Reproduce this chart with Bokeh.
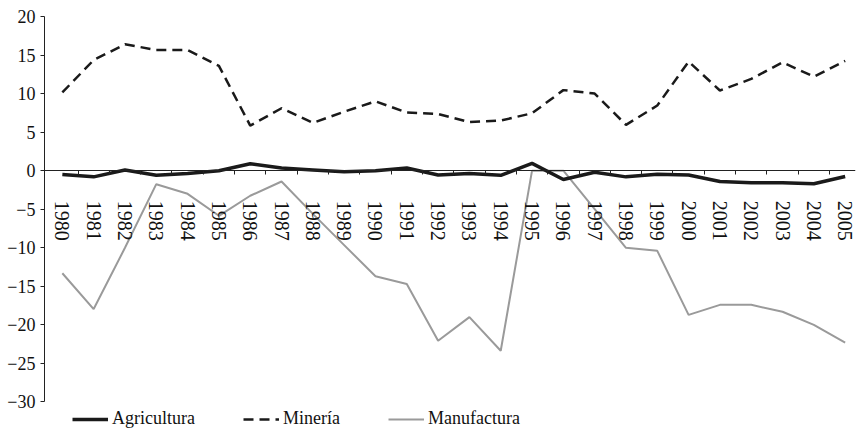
from bokeh.plotting import figure
from bokeh.models import FixedTicker, Legend, LegendItem, Range1d
from bokeh.embed import file_html
from bokeh.resources import INLINE

years = list(range(1980, 2006))
year_labels = [str(y) for y in years]

agricultura = [-0.5, -0.8, 0.1, -0.6, -0.35, 0.0, 0.9, 0.35, 0.1, -0.15,
               0.0, 0.35, -0.55, -0.35, -0.6, 0.95, -1.15, -0.2, -0.8, -0.45,
               -0.55, -1.4, -1.55, -1.55, -1.7, -0.75]
mineria = [10.15, 14.35, 16.4, 15.65, 15.65, 13.6, 5.85, 8.1, 6.2, 7.65,
           9.0, 7.55, 7.35, 6.3, 6.5, 7.45, 10.45, 10.0, 5.95, 8.45,
           14.15, 10.4, 11.9, 14.05, 12.2, 14.25]
manufactura = [-13.3, -17.95, -10.0, -1.75, -3.0, -5.85, -3.25, -1.4, -5.6, -9.65,
               -13.7, -14.7, -22.05, -19.0, -23.35, 0.0, 0.0, -5.0, -10.0, -10.4,
               -18.7, -17.4, -17.4, -18.3, -20.0, -22.3]

y_ticks = [-30, -25, -20, -15, -10, -5, 0, 5, 10, 15, 20]
y_tick_labels = ["\u221230", "\u221225", "\u221220", "\u221215", "\u221210", "\u22125",
                 "0", "5", "10", "15", "20"]
series_names = ["Agricultura", "Miner\u00eda", "Manufactura"]

FONT = "Liberation Serif"
AXIS_COLOR = "#222222"

p = figure(width=856, height=430,
           x_range=Range1d(1979.43, 2005.33), y_range=Range1d(-33.7, 20),
           output_backend="svg", toolbar_location=None,
           min_border_left=44, min_border_right=1, min_border_top=16, min_border_bottom=0)
p.xgrid.visible = False
p.ygrid.visible = False
p.outline_line_color = None
p.background_fill_color = "white"
p.border_fill_color = "white"

r_man = p.line(years, manufactura, line_color="#9a9a9a", line_width=2)
r_min = p.line(years, mineria, line_color="#1a1a1a", line_width=2.5, line_dash="10 6")
r_agr = p.line(years, agricultura, line_color="#1a1a1a", line_width=3.5)

# y axis
yax = p.yaxis[0]
yax.bounds = (y_ticks[0], y_ticks[-1])
yax.ticker = FixedTicker(ticks=y_ticks)
yax.major_label_overrides = {t: l for t, l in zip(y_ticks, y_tick_labels)}
yax.minor_tick_line_color = None
yax.major_tick_in = 0
yax.major_tick_out = 4
yax.major_label_standoff = 5
yax.axis_line_color = AXIS_COLOR
yax.major_tick_line_color = AXIS_COLOR
yax.major_label_text_font = FONT
yax.major_label_text_font_size = "18px"
yax.major_label_text_color = "#111111"

# x axis crossing at zero
xax = p.xaxis[0]
xax.fixed_location = 0
xax.ticker = FixedTicker(ticks=years, minor_ticks=[y + 0.5 for y in years[:-1]])
xax.major_label_overrides = {y: l for y, l in zip(years, year_labels)}
xax.major_tick_line_color = None
xax.major_tick_in = 0
xax.major_tick_out = 0
xax.minor_tick_in = 0
xax.minor_tick_out = 4
xax.minor_tick_line_color = AXIS_COLOR
xax.axis_line_color = AXIS_COLOR
xax.major_label_orientation = "vertical"
xax.major_label_standoff = 26
xax.major_label_text_font = FONT
xax.major_label_text_font_size = "20px"
xax.major_label_text_color = "#111111"

legend = Legend(items=[LegendItem(label=series_names[0], renderers=[r_agr]),
                       LegendItem(label=series_names[1], renderers=[r_min]),
                       LegendItem(label=series_names[2], renderers=[r_man])],
                orientation="horizontal", location=(28, 1), spacing=48,
                glyph_width=36, glyph_height=20, label_standoff=4,
                padding=0, margin=0, border_line_color=None, background_fill_alpha=0,
                label_text_font=FONT, label_text_font_size="18px",
                label_text_color="#111111", label_height=20)
p.add_layout(legend)

open("out.html", "w").write(file_html(p, INLINE))
